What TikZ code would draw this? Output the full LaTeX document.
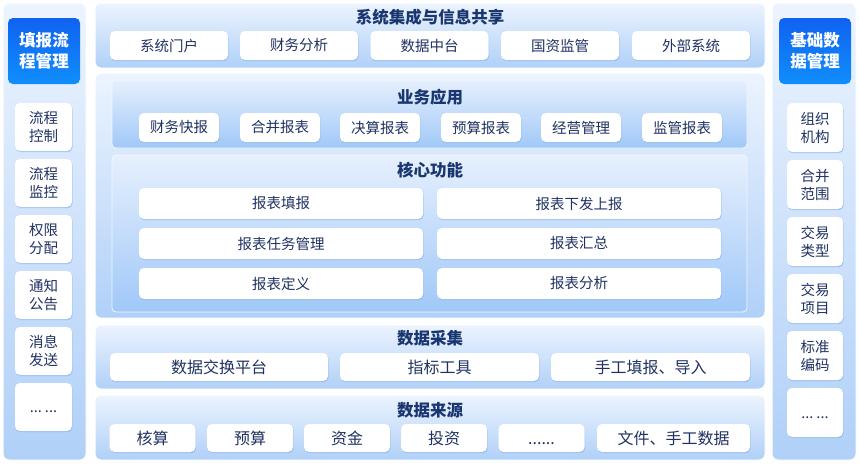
\documentclass[tikz,border=0pt]{standalone}
\usepackage{fontspec}
\setmainfont{Noto Sans CJK SC}
\usetikzlibrary{shadows}
\definecolor{ptop}{RGB}{236,244,254}
\definecolor{pbot}{RGB}{176,208,248}
\definecolor{itop}{RGB}{230,240,253}
\definecolor{ibot}{RGB}{160,200,248}
\definecolor{htop}{RGB}{16,98,240}
\definecolor{hbot}{RGB}{16,142,252}
\definecolor{ttl}{RGB}{26,54,112}
\definecolor{itx}{RGB}{32,50,98}
\definecolor{shd}{RGB}{140,180,235}
\tikzset{
  panel/.style={rounded corners=6pt, top color=ptop, bottom color=pbot, draw=white, line width=1pt},
  inpanel/.style={rounded corners=4pt, top color=itop, bottom color=ibot, draw=white!80!blue!20, line width=0.8pt},
  hdr/.style={rounded corners=5pt, top color=htop, bottom color=hbot, text=white, font=\fontsize{16.5}{21}\selectfont\bfseries, align=center, inner sep=0pt, minimum width=72pt, minimum height=66pt},
  item/.style={rounded corners=5pt, fill=white, text=itx, inner sep=0pt, align=center,
     drop shadow={shadow xshift=0.6pt, shadow yshift=-1.2pt, fill=shd, opacity=0.7},
     font=\fontsize{14.5}{18}\selectfont},
  bitem/.style={item, font=\fontsize{16}{19}\selectfont},
  ttlbl/.style={text=ttl, font=\fontsize{16.5}{20}\selectfont\bfseries, inner sep=0pt},
  sideitem/.style={item, minimum width=57pt, minimum height=48pt},
}
\newcommand{\dotsgap}{\vphantom{流}...\hspace{3pt}...}
\begin{document}
\begin{tikzpicture}[x=1pt,y=-1pt]
\useasboundingbox (0,0) rectangle (859,463);
\fill[white] (0,0) rectangle (859,463);
% left column
\path[panel] (3,3) rectangle (86,460);
\node[hdr] (lh) at (44,51) {填报流\\程管理};
\node[sideitem] (l1) at (43.5,127) {流程\\控制};
\node[sideitem] (l2) at (43.5,183) {流程\\监控};
\node[sideitem] (l3) at (43.5,239) {权限\\分配};
\node[sideitem] (l4) at (43.5,295) {通知\\公告};
\node[sideitem] (l5) at (43.5,351) {消息\\发送};
\node[sideitem] (l6) at (43.5,407) {\dotsgap};
% right column
\path[panel] (772,3) rectangle (856,460);
\node[hdr] (rh) at (815,51) {基础数\\据管理};
\node[sideitem, minimum width=56pt, minimum height=49pt] (r1) at (815,127.5) {组织\\机构};
\node[sideitem, minimum width=56pt, minimum height=49pt] (r2) at (815,184.5) {合并\\范围};
\node[sideitem, minimum width=56pt, minimum height=49pt] (r3) at (815,241.5) {交易\\类型};
\node[sideitem, minimum width=56pt, minimum height=49pt] (r4) at (815,298.5) {交易\\项目};
\node[sideitem, minimum width=56pt, minimum height=49pt] (r5) at (815,355.5) {标准\\编码};
\node[sideitem, minimum width=56pt, minimum height=49pt] (r6) at (815,412.5) {\dotsgap};
% section 1
\path[panel] (95,3) rectangle (765,68);
\node[ttlbl] (t1) at (430,17) {系统集成与信息共享};
\foreach \x/\t [count=\i] in {169/系统门户,299/财务分析,429.5/数据中台,560/国资监管,691/外部系统}
  \node[item, minimum width=118pt, minimum height=29pt] (s1\i) at (\x,45.5) {\t};
% section 2
\path[panel] (95,73) rectangle (765,318);
\path[inpanel] (112,80) rectangle (747,148);
\node[ttlbl] (t2) at (430,97) {业务应用};
\foreach \x/\t [count=\i] in {179/财务快报,280/合并报表,380/决算报表,481/预算报表,581/经营管理,682/监管报表}
  \node[item, minimum width=80pt, minimum height=29pt] (s2\i) at (\x,127.5) {\t};
\path[inpanel] (112,155) rectangle (747,312);
\node[ttlbl] (t3) at (430,170) {核心功能};
\node[item, minimum width=284pt, minimum height=31pt] (c1) at (281,203.5) {报表填报};
\node[item, minimum width=284pt, minimum height=31pt] (c2) at (579,203.5) {报表下发上报};
\node[item, minimum width=284pt, minimum height=31pt] (c3) at (281,243.5) {报表任务管理};
\node[item, minimum width=284pt, minimum height=31pt] (c4) at (579,243.5) {报表汇总};
\node[item, minimum width=284pt, minimum height=31pt] (c5) at (281,283.5) {报表定义};
\node[item, minimum width=284pt, minimum height=31pt] (c6) at (579,283.5) {报表分析};
% section 3
\path[panel] (95,325) rectangle (765,389);
\node[ttlbl] (t4) at (430,338) {数据采集};
\node[bitem, minimum width=218pt, minimum height=28pt] (d1) at (219,367) {数据交换平台};
\node[bitem, minimum width=199pt, minimum height=28pt] (d2) at (439.5,367) {指标工具};
\node[bitem, minimum width=199pt, minimum height=28pt] (d3) at (650.5,367) {手工填报、导入};
% section 4
\path[panel] (95,395) rectangle (765,460);
\node[ttlbl] (t5) at (430,410) {数据来源};
\foreach \x/\t [count=\i] in {152.5/核算,250/预算,347/资金,444/投资}
  \node[bitem, minimum width=86pt, minimum height=28pt] (e\i) at (\x,438) {\t};
\node[bitem, minimum width=86pt, minimum height=28pt] (e5) at (541.5,438) {\vphantom{流}......};
\node[bitem, minimum width=153pt, minimum height=28pt] (e6) at (673.5,438) {文件、手工数据};
\end{tikzpicture}
\end{document}
